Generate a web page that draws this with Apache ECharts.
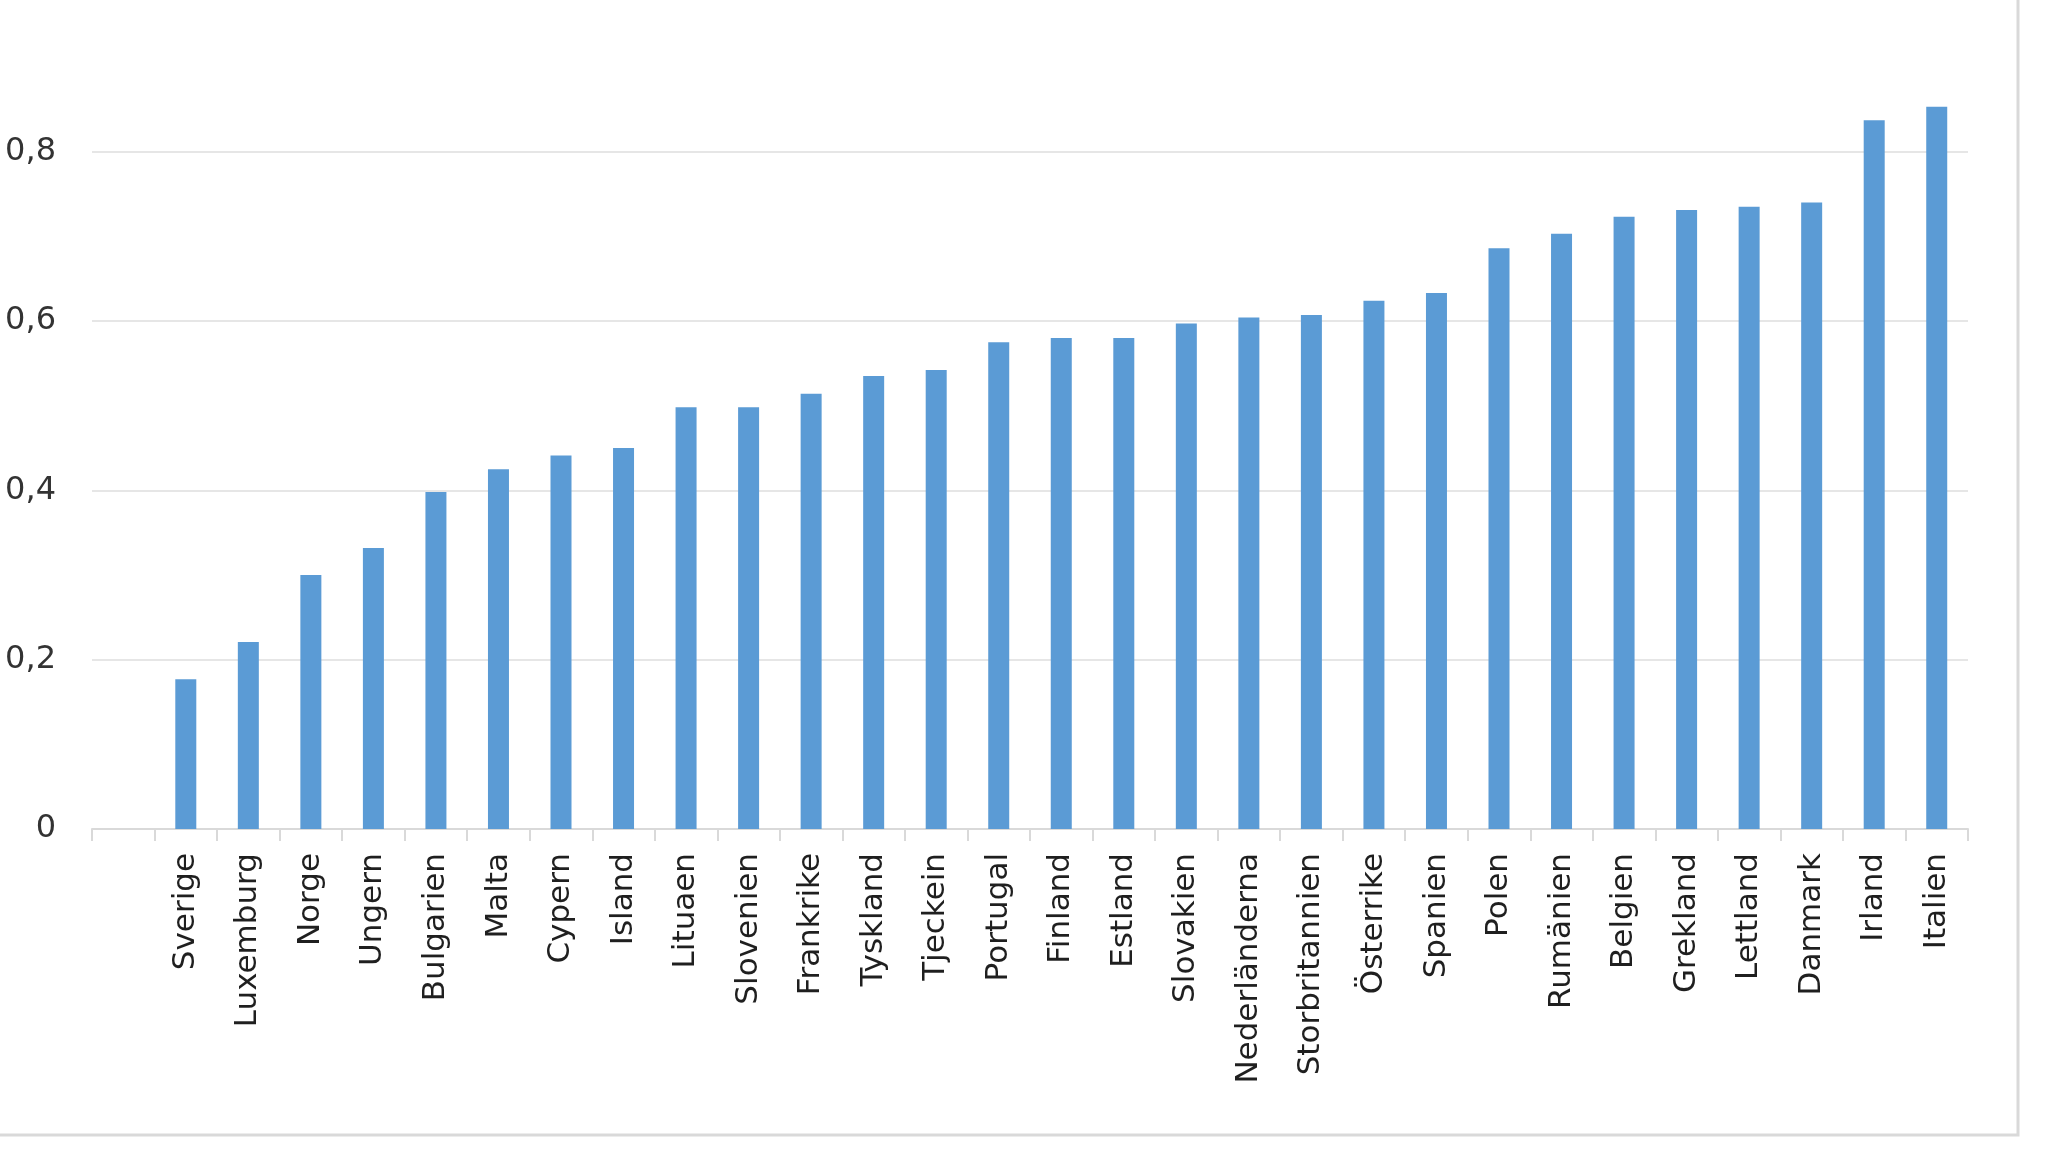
<!DOCTYPE html>
<html>
<head>
<meta charset="utf-8">
<script src="https://cdn.jsdelivr.net/npm/echarts@6/dist/echarts.min.js"></script>
<style>
html,body{margin:0;padding:0;background:#fff;}
#c{width:2048px;height:1155px;}
</style>
</head>
<body>
<div id="c"></div>
<script>
var categories = ['', 'Sverige', 'Luxemburg', 'Norge', 'Ungern', 'Bulgarien', 'Malta', 'Cypern', 'Island', 'Lituaen', 'Slovenien', 'Frankrike', 'Tyskland', 'Tjeckein', 'Portugal', 'Finland', 'Estland', 'Slovakien', 'Nederländerna', 'Storbritannien', 'Österrike', 'Spanien', 'Polen', 'Rumänien', 'Belgien', 'Grekland', 'Lettland', 'Danmark', 'Irland', 'Italien'];
var values = ['-', 0.177, 0.221, 0.300, 0.332, 0.398, 0.425, 0.441, 0.450, 0.498, 0.498, 0.514, 0.535, 0.542, 0.575, 0.580, 0.580, 0.597, 0.604, 0.607, 0.624, 0.633, 0.686, 0.703, 0.723, 0.731, 0.735, 0.740, 0.837, 0.853];
var yMin = 0;
var yMax = 0.9;
var yInterval = 0.2;

var chart = echarts.init(document.getElementById('c'));
chart.setOption({
  animation: false,
  backgroundColor: '#ffffff',
  graphic: [{
    type: 'rect',
    shape: {x: -10, y: -10, width: 2028, height: 1145},
    style: {fill: 'none', stroke: '#d9d9d9', lineWidth: 3},
    silent: true
  }],
  grid: {left: 92, right: 80, top: 67, bottom: 326, containLabel: false},
  xAxis: {
    type: 'category',
    data: categories,
    boundaryGap: true,
    axisLine: {show: true, lineStyle: {color: '#d9d9d9', width: 2}},
    axisTick: {show: true, length: 12, lineStyle: {color: '#d9d9d9', width: 2}},
    axisLabel: {
      interval: 0,
      rotate: 90,
      margin: 24,
      color: '#1f1f1f',
      fontFamily: 'DejaVu Sans',
      fontSize: 31
    },
    splitLine: {show: false}
  },
  yAxis: {
    type: 'value',
    min: yMin,
    max: yMax,
    interval: yInterval,
    axisLine: {show: false},
    axisTick: {show: false},
    axisLabel: {
      showMaxLabel: false,
      margin: 36,
      color: '#333333',
      fontFamily: 'DejaVu Sans',
      fontSize: 32,
      formatter: function (v) { return v === 0 ? '0' : v.toFixed(1).replace('.', ','); }
    },
    splitLine: {show: true, showMaxLine: false, lineStyle: {color: '#e6e6e6', width: 2}}
  },
  series: [{
    type: 'bar',
    data: values,
    barWidth: 21,
    itemStyle: {color: '#5b9bd5'}
  }]
});
</script>
</body>
</html>
